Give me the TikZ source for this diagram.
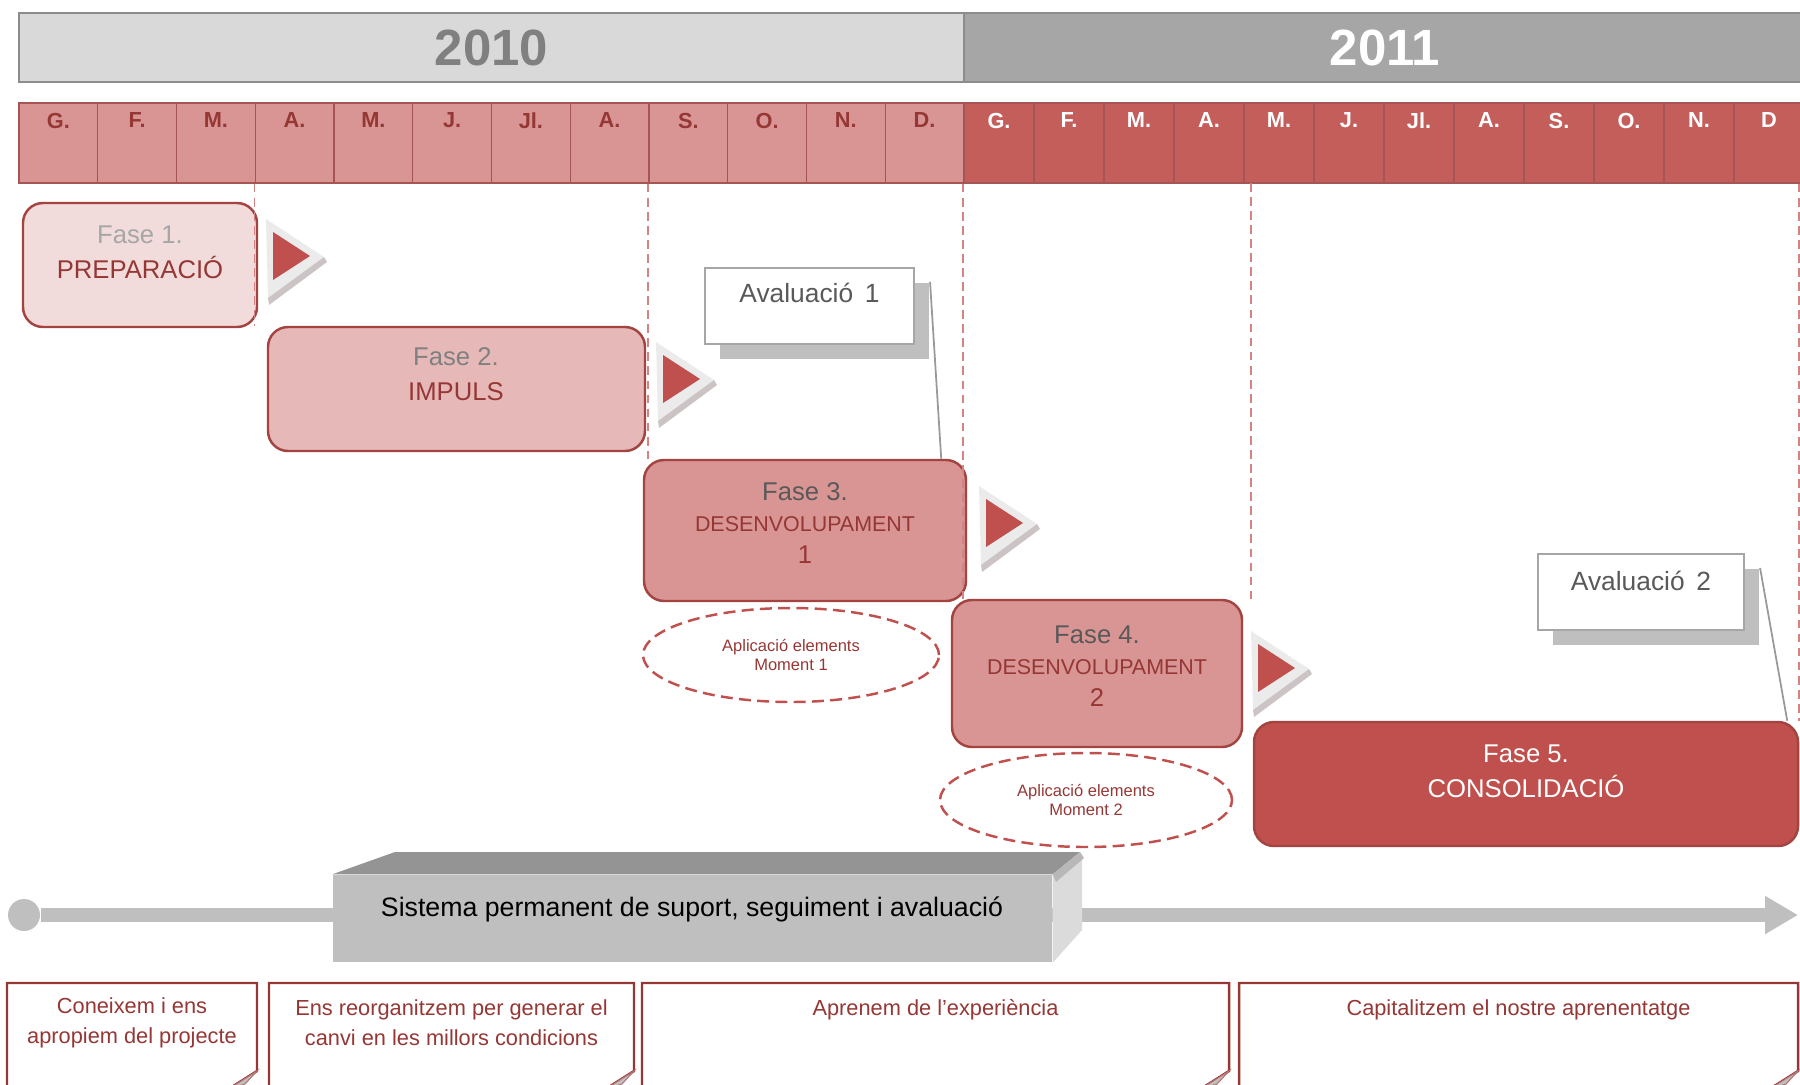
\documentclass[tikz,border=0pt]{standalone}
\usepackage{fontspec}
\setmainfont{Liberation Sans}
\usepackage{xcolor}
\usepackage{tikz}
\usetikzlibrary{arrows.meta, positioning, shapes.geometric, shadows, calc}
\definecolor{fasered}{HTML}{C0504D}
\definecolor{fasedark}{HTML}{953735}
\definecolor{fasemid}{HTML}{D99594}
\definecolor{faselight}{HTML}{E6B9B8}
\definecolor{fasepale}{HTML}{F2DCDB}
\definecolor{monred}{HTML}{C45E5B}
\definecolor{yrlight}{HTML}{D9D9D9}
\definecolor{yrdark}{HTML}{A6A6A6}
\definecolor{txtgray}{HTML}{595959}
\definecolor{sysgray}{HTML}{BFBFBF}
\newcommand{\fsz}[2]{\fontsize{#1}{#2}\selectfont}
\tikzset{
  yearbar/.style={draw=black!45,line width=0.6pt,minimum height=6.9mm,inner sep=0pt,font=\fsz{14.5}{16}\bfseries},
  moncell/.style={draw=fasedark!85,line width=0.4pt,minimum height=8mm,inner sep=0pt},
  montxt/.style={anchor=north,inner sep=1mm,font=\fsz{6.2}{7}\bfseries},
  fasebox/.style={draw=fasered!85!black,line width=0.7pt,rounded corners=2mm,inner sep=0pt},
  fasetxt/.style={align=center,inner sep=0pt,font=\fsz{7.3}{10}},
  avalbox/.style={draw=black!35,fill=white,line width=0.6pt,inner sep=0pt,minimum height=7.6mm,
    drop shadow={shadow xshift=1.5mm,shadow yshift=-1.5mm,fill=black!25,opacity=1}},
  avaltxt/.style={inner sep=0pt,text=txtgray,font=\fsz{7.5}{9}},
  avalline/.style={draw=black!40,line width=0.5pt},
  momell/.style={ellipse,draw=fasered,line width=0.7pt,dash pattern=on 3.4pt off 1.8pt,
    inner sep=0pt,align=center,text=fasedark,font=\fsz{4.7}{5.2}},
  guide/.style={draw=fasered!70,dash pattern=on 2.5pt off 1.5pt,line width=0.5pt},
  markhi/.style={fill=black!8},
  markbev/.style={fill=fasedark!35!black!25},
  playmark/.pic={
    \fill[markhi] (-7,-37) -- (51,1) -- (-5,42) -- cycle;
    \fill[markbev] (-5,42) -- (51,1) -- (54,6) -- (-4,49) -- cycle;
    \fill[fasered] (0,-24) -- (37,0) -- (0,24) -- cycle;
  },
  axisline/.style={draw=sysgray,line width=1.4mm,-{Triangle[length=3.3mm,width=3.6mm]}},
  sysfront/.style={fill=sysgray,minimum width=71.9mm,minimum height=8.7mm,inner sep=0pt},
  systxt/.style={inner sep=0pt,font=\fsz{7.6}{9}},
  systop/.style={fill=black!42},
  sysside/.style={fill=black!14},
  notefr/.style={draw=fasedark,line width=0.7pt,fill=white},
  notefold/.style={fill=black!25,draw=fasedark!70,line width=0.3pt},
  notetxt/.style={align=center,inner sep=0pt,text=fasedark,font=\fsz{6.2}{8.5}},
}
\begin{document}
\begin{tikzpicture}[x=0.1mm,y=-0.1mm]
  \useasboundingbox (0,0) rectangle (1800,1084);
  % years
  \node[yearbar,fill=yrlight,text=black!50,minimum width=94.5mm] (y10) at (491.5,47.5) {2010};
  \node[yearbar,fill=yrdark,text=white,minimum width=84.2mm] (y11) at (1385,47.5) {2011};
  % months
  \foreach \m [count=\i] in {G.,F.,M.,A.,M.,J.,Jl.,A.,S.,O.,N.,D.}{
    \node[moncell,fill=fasemid,minimum width=7.875mm] (a\i) at ({19+78.75*(\i-0.5)},143) {};
    \node[montxt,text=fasedark] (la\i) at (a\i.north) {\m};
  }
  \foreach \m [count=\i] in {G.,F.,M.,A.,M.,J.,Jl.,A.,S.,O.,N.,D}{
    \node[moncell,fill=monred,minimum width=7mm] (b\i) at ({964+70*(\i-0.5)},143) {};
    \node[montxt,text=white] (lb\i) at (b\i.north) {\m};
  }
  % phases
  \node[fasebox,fill=fasepale,minimum width=23.4mm,minimum height=12.4mm] (f1) at (140,265) {};
  \node[fasebox,fill=faselight,minimum width=37.7mm,minimum height=12.4mm] (f2) at (456.5,389) {};
  \node[fasebox,fill=fasemid,minimum width=32.2mm,minimum height=14.1mm] (f3) at (805,530.5) {};
  \node[fasebox,fill=fasemid,minimum width=29mm,minimum height=14.7mm] (f4) at (1097,673.5) {};
  \node[fasebox,fill=fasered,minimum width=54.4mm,minimum height=12.4mm] (f5) at (1526,784) {};
  \coordinate (g4) at (1251,183);
  \draw[guide] (a4.south west) -- (a4.south west |- f2.north);
  \draw[guide] (a9.south west) -- (a9.south west |- f3.north);
  \draw[guide] (b1.south west) -- (b1.south west |- f4.north);
  \draw[guide] (g4) -- (g4 |- f4.north);
  \draw[guide] (b12.south -| f5.east) -- (f5.north east);
  \node[fasetxt] (t1) at (140,252) {\textcolor{black!35}{Fase 1.}\\\textcolor{fasedark}{PREPARACIÓ}};
  \node[fasetxt] (t2) at (456,374) {\textcolor{black!50}{Fase 2.}\\\textcolor{fasedark}{IMPULS}};
  \node[fasetxt,font=\fsz{7.3}{9}] (t3) at (805,523) {\textcolor{txtgray}{Fase 3.}\\\textcolor{fasedark}{\fsz{6.1}{9}DESENVOLUPAMENT}\\\textcolor{fasedark}{1}};
  \node[fasetxt,font=\fsz{7.3}{9}] (t4) at (1097,666) {\textcolor{txtgray}{Fase 4.}\\\textcolor{fasedark}{\fsz{6.1}{9}DESENVOLUPAMENT}\\\textcolor{fasedark}{2}};
  \node[fasetxt,text=white] (t5) at (1526,771) {Fase 5.\\CONSOLIDACIÓ};
  % markers
  \pic at (273,256) {playmark};
  \pic at (663,379) {playmark};
  \pic at (986,523) {playmark};
  \pic at (1258,668) {playmark};
  % evaluations
  \node[avalbox,minimum width=20.9mm] (av1) at (809.5,306) {};
  \node[avaltxt] (av1t) at (809.5,293) {Avaluació\, 1};
  \draw[avalline] ([xshift=1.5mm,yshift=-1.5mm]av1.north east) -- ([xshift=-2.6mm]f3.north east);
  \node[avalbox,minimum width=20.6mm] (av2) at (1641,592) {};
  \node[avaltxt] (av2t) at (1641,581) {Avaluació\, 2};
  \draw[avalline] ([xshift=1.5mm,yshift=-1.5mm]av2.north east) -- ([xshift=-1.2mm]f5.north east);
  % moments
  \node[momell,minimum width=29.6mm,minimum height=9.4mm] (e1) at (791,655) {Aplicació elements\\Moment 1};
  \node[momell,minimum width=29.2mm,minimum height=9.4mm] (e2) at (1086,800) {Aplicació elements\\Moment 2};
  % support axis
  \node[circle,fill=sysgray,minimum size=3.2mm,inner sep=0pt] (st) at (24,915) {};
  \coordinate (axend) at (1798,915);
  \draw[axisline] (st) -- (axend);
  \node[sysfront] (sys) at (692.5,918.5) {};
  \fill[systop] (sys.north west) -- (395,852) -- (1080,852) -- (sys.north east) -- cycle;
  \fill[sysside] (sys.north east) -- (1082,855) -- (1082,930) -- (sys.south east) -- cycle;
  \fill[black!28] (sys.north east) -- (1080,852) -- (1084,858) -- (1056,882) -- cycle;
  \node[systxt] (syst) at (692,909) {Sistema permanent de suport, seguiment i avaluació};
  % notes
  \foreach \xa/\xb/\ty/\txt [count=\i] in {7/257/1023/{Coneixem i ens\\apropiem del projecte},
      269/634/1023/{Ens reorganitzem per generar el\\canvi en les millors condicions},
      642/1229/1010/{Aprenem de l'experiència},
      1239/1798/1010/{Capitalitzem el nostre aprenentatge}}{
    \draw[notefr] (\xa,1095) -- (\xa,983) -- (\xb,983) -- (\xb,1071) -- ({\xb-30},1090);
    \fill[notefold] ({\xb-30},1090) -- (\xb,1071) -- ({\xb-12},1084) -- cycle;
    \node[notetxt] (n\i) at ({(\xa+\xb)/2},\ty) {\txt};
  }
\end{tikzpicture}
\end{document}
